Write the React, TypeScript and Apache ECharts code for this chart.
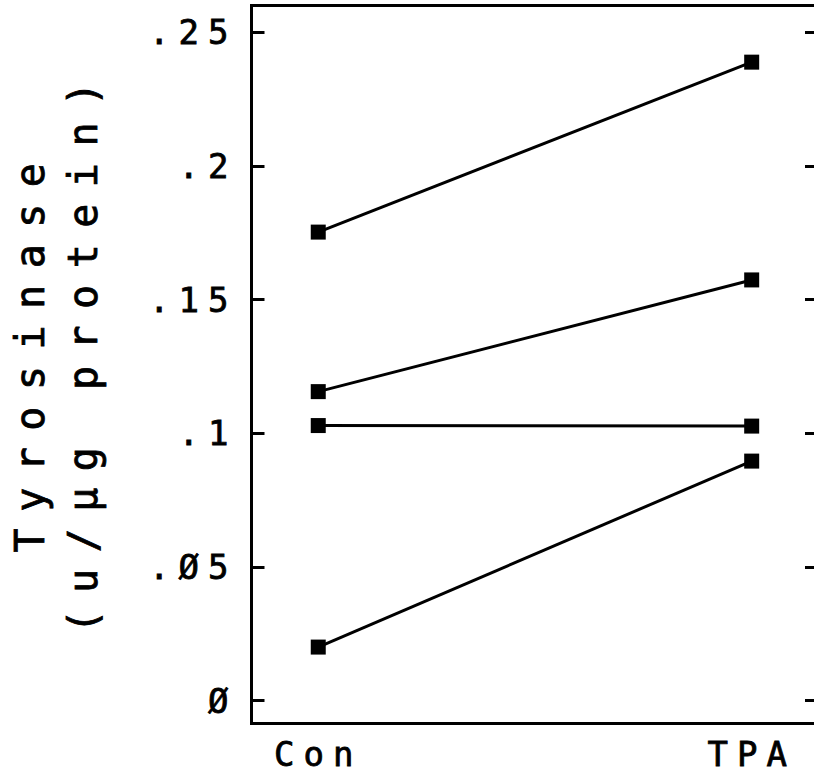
import React, { useEffect, useRef } from "react";
import * as echarts from "echarts";

// Treatment groups on the x axis (Con = 0, TPA = 1)
const groups = ["Con", "TPA"];

// Tyrosinase activity per experiment, [Con, TPA]
const experiment1 = [0.1753, 0.2389];
const experiment2 = [0.1156, 0.1574];
const experiment3 = [0.1029, 0.1027];
const experiment4 = [0.0200, 0.0896];

// Y tick values and their plotter-style labels
const yTickValues = [0, 0.05, 0.1, 0.15, 0.2, 0.25];
const yTickLabels = ["Ø", ".Ø5", ".1", ".15", ".2", ".25"];

const experiments = [experiment1, experiment2, experiment3, experiment4];

const MONO = "DejaVu Sans Mono";

// Slightly heavier pen for all texts
const pen = { color: "#000", textBorderColor: "#000", textBorderWidth: 0.8 };

export default function App() {
  const ref = useRef<HTMLDivElement>(null);

  useEffect(() => {
    if (!ref.current) return;
    const chart = echarts.init(ref.current, undefined, { renderer: "svg" });

    const yLabel = (v: number) => {
      let best = 0;
      yTickValues.forEach((t, i) => {
        if (Math.abs(t - v) < Math.abs(yTickValues[best] - v)) best = i;
      });
      return yTickLabels[best];
    };

    const yMin = -0.0086;
    const yMax = 0.2601;

    const yTick = {
      show: true,
      inside: true,
      length: 13,
      customValues: yTickValues,
      lineStyle: { color: "#000", width: 3 },
    };

    chart.setOption({
      animation: false,
      backgroundColor: "#ffffff",
      grid: {
        left: 251.5,
        right: -4,
        top: 5.5,
        bottom: 52.5,
        outerBoundsMode: "none",
        containLabel: false,
        show: true,
        borderColor: "#000",
        borderWidth: 3,
        backgroundColor: "transparent",
      },
      xAxis: {
        type: "value",
        min: -0.154,
        max: 1.153,
        splitLine: { show: false },
        axisLine: { show: false, onZero: false },
        axisTick: { show: false },
        axisLabel: {
          customValues: [0, 1],
          formatter: (v: number) => groups[Math.round(v)],
          ...pen,
          fontFamily: MONO,
          fontSize: 34,
          lineHeight: 34,
          margin: 13,
        },
      },
      yAxis: [
        {
          type: "value",
          min: yMin,
          max: yMax,
          position: "left",
          splitLine: { show: false },
          axisLine: { show: false, onZero: false },
          axisTick: yTick,
          axisLabel: {
            customValues: yTickValues,
            formatter: yLabel,
            ...pen,
            fontFamily: MONO,
            fontSize: 34,
            margin: 14,
          },
          name: "Tyrosinase\n(u/µg protein)",
          nameLocation: "middle",
          nameRotate: 90,
          nameGap: 142,
          nameTextStyle: {
            ...pen,
            fontFamily: MONO,
            fontSize: 40,
            lineHeight: 53,
            padding: [0, 0, 0, 30],
          },
        },
        {
          type: "value",
          min: yMin,
          max: yMax,
          position: "right",
          splitLine: { show: false },
          axisLine: { show: false, onZero: false },
          axisTick: yTick,
          axisLabel: { show: false },
        },
      ],
      series: experiments.map((vals) => ({
        type: "line",
        data: vals.map((v, i) => [i, v]),
        symbol: "rect",
        symbolSize: 15,
        lineStyle: { color: "#000", width: 3 },
        itemStyle: { color: "#000" },
        z: 3,
      })),
    });

    return () => chart.dispose();
  }, []);

  return (
    <>
      <style>{`
        .tyr-chart text[style*="34px"] { letter-spacing: 9px; }
        .tyr-chart text[style*="40px"] { letter-spacing: 16.5px; }
      `}</style>
      <div
        ref={ref}
        className="tyr-chart"
        style={{ position: "fixed", left: 0, top: 0, width: 814, height: 776 }}
      />
    </>
  );
}
